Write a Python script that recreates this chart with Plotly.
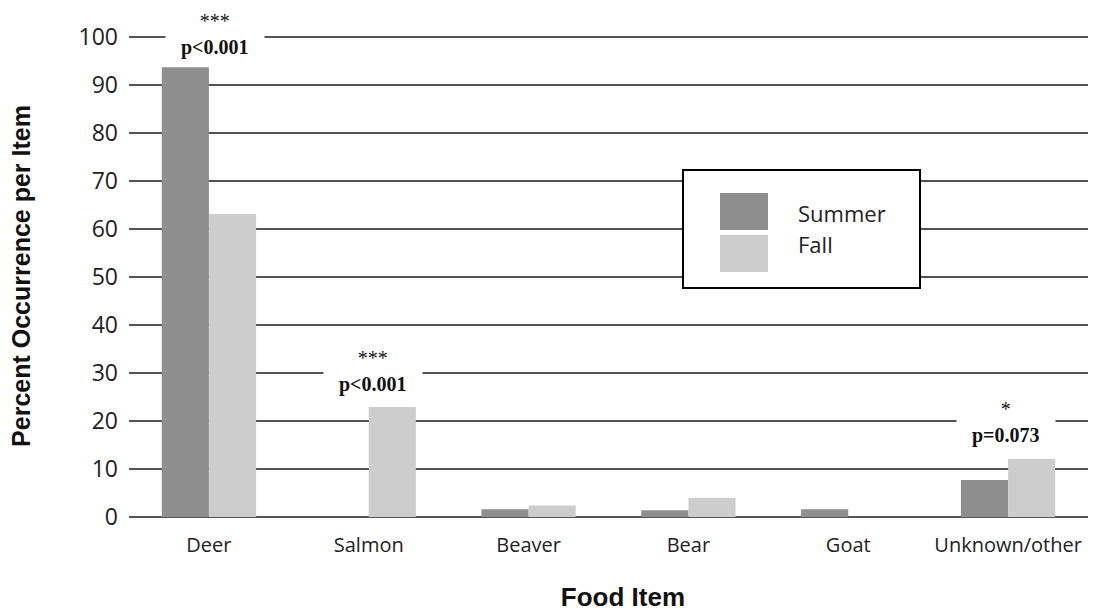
import plotly.graph_objects as go

categories = ["Deer", "Salmon", "Beaver", "Bear", "Goat", "Unknown/other"]
summer = [93.7, 0, 1.6, 1.4, 1.6, 7.7]
fall = [63.1, 22.9, 2.4, 4.0, 0, 12.1]
y_ticks = list(range(0, 101, 10))

ann_cats = ["Deer", "Salmon", "Unknown/other"]
ann_stars = ["***", "***", "*"]
ann_p = ["p&lt;0.001", "p&lt;0.001", "p=0.073"]
ann_y = [100, 30.4, 19.6]
ann_yshift = [2, 0, 0]
ann_xshift = [6, 4, -2]

SUMMER_C = "#8e8e8e"
FALL_C = "#cdcdcd"
GRID_C = "#555555"
SANS = "Open Sans, Noto Sans, sans-serif"
TITLE_F = "Liberation Sans, Arial, sans-serif"
SERIF = "Liberation Serif, DejaVu Serif, serif"

fig = go.Figure()
fig.add_trace(go.Bar(x=categories, y=summer, name="Summer", marker_color=SUMMER_C,
                     marker_line_width=0))
fig.add_trace(go.Bar(x=categories, y=fall, name="Fall", marker_color=FALL_C,
                     marker_line_width=0))

W, H = 1098, 613
L, R, T, B = 129, 10, 35, 96
pw, ph = W - L - R, H - T - B

def px_x(p):
    return (p - L) / pw

def px_y(p):
    return (H - B - p) / ph

for c, s, p, y, ys, xs in zip(ann_cats, ann_stars, ann_p, ann_y, ann_yshift, ann_xshift):
    fig.add_annotation(
        x=c, y=y, xref="x", yref="y", xshift=xs, yshift=ys,
        text=f"{s}<br><b>&nbsp;&nbsp;&nbsp;{p}&nbsp;&nbsp;&nbsp;</b>",
        showarrow=False, bgcolor="white", borderpad=0,
        font=dict(family=SERIF, size=20, color="#111111"),
    )

# legend box
fig.add_shape(type="rect", xref="paper", yref="paper",
              x0=px_x(683), x1=px_x(920), y0=px_y(288), y1=px_y(170),
              fillcolor="white", line=dict(color="black", width=2), layer="above")
fig.add_shape(type="rect", xref="paper", yref="paper",
              x0=px_x(720), x1=px_x(768), y0=px_y(230), y1=px_y(193),
              fillcolor=SUMMER_C, line=dict(width=0), layer="above")
fig.add_shape(type="rect", xref="paper", yref="paper",
              x0=px_x(720), x1=px_x(768), y0=px_y(272), y1=px_y(235),
              fillcolor=FALL_C, line=dict(width=0), layer="above")
for txt, yy in [("Summer", 213), ("Fall", 244)]:
    fig.add_annotation(x=px_x(796), y=px_y(yy), xref="paper", yref="paper",
                       text=txt, showarrow=False, xanchor="left", yanchor="middle",
                       font=dict(family=SANS, size=22, color="#222222"))

fig.update_layout(
    width=W, height=H,
    margin=dict(l=L, r=R, t=T, b=B),
    paper_bgcolor="white", plot_bgcolor="white",
    barmode="group", bargap=0.41, bargroupgap=0,
    showlegend=False,
    xaxis=dict(
        type="category", showgrid=False, showline=False, ticks="",
        tickfont=dict(family=SANS, size=20, color="#222222"),
        ticklabelstandoff=14,
        title=dict(text="<b>&nbsp;&nbsp;&nbsp;&nbsp;Food Item</b>",
                   font=dict(family=TITLE_F, size=26, color="#111111"),
                   standoff=30),
        automargin=False,
    ),
    yaxis=dict(
        range=[0, 100.4], tickvals=y_ticks, showgrid=True, gridcolor=GRID_C, gridwidth=2,
        zeroline=True, zerolinecolor=GRID_C, zerolinewidth=2, showline=False, ticks="",
        tickfont=dict(family=SANS, size=23, color="#222222"),
        ticklabelstandoff=10,
        title=dict(text="<b>Percent Occurrence per Item</b>",
                   font=dict(family=TITLE_F, size=25, color="#111111"), standoff=40),
        automargin=False,
    ),
)

fig.write_html("out.html", config={"displayModeBar": False},
               post_script="document.body.style.margin='0';document.body.style.overflow='hidden';")
